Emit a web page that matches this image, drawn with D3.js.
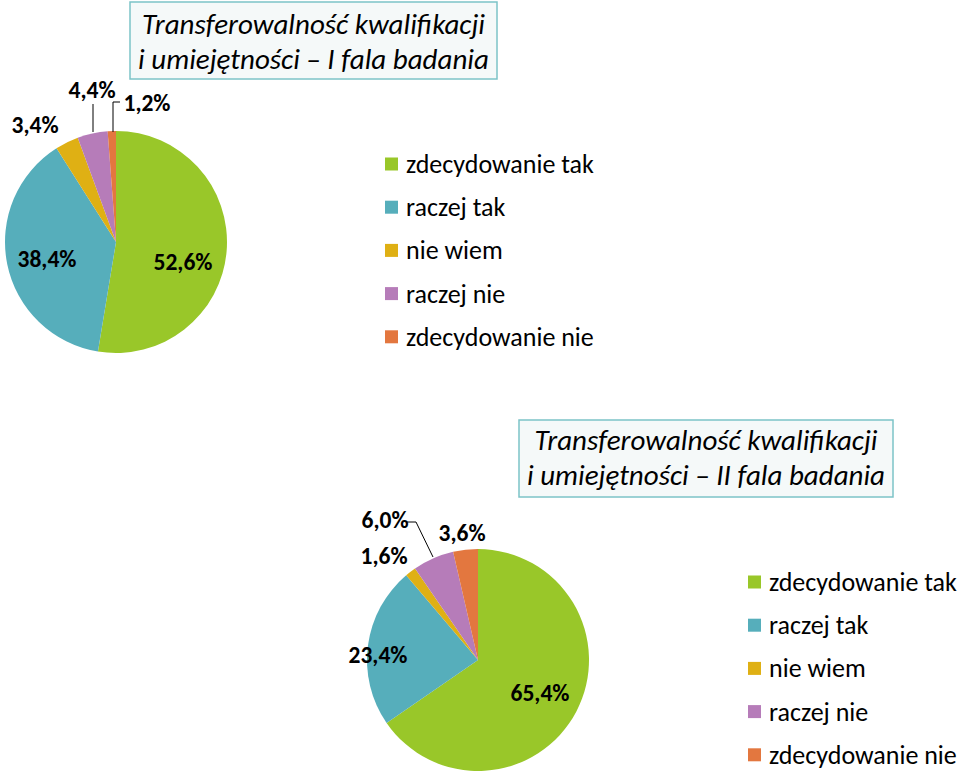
<!DOCTYPE html>
<html><head><meta charset="utf-8">
<script src="https://cdn.jsdelivr.net/npm/d3@7"></script>
<style>body{margin:0;background:#fff}svg{display:block}text{font-family:Carlito,Calibri,Lato,"Open Sans",sans-serif}</style>
</head><body>
<svg id="c" width="960" height="775"></svg>
<script>
const categories = ["zdecydowanie tak","raczej tak","nie wiem","raczej nie","zdecydowanie nie"];
const colors = ["#99c729","#56aebb","#dfb014","#b67cb9","#e3773f"];
const wave1 = [52.6,38.4,3.4,4.4,1.2];
const wave2 = [65.4,23.4,1.6,6.0,3.6];
const titles1 = ["Transferowalność kwalifikacji","i umiejętności – I fala badania"];
const titles2 = ["Transferowalność kwalifikacji","i umiejętności – II fala badania"];

const svg = d3.select("#c");
const fmt = v => v.toFixed(1).replace(".", ",") + "%";

function drawPie(cx, cy, r, values, labelPos, leaders) {
  const g = svg.append("g").attr("transform", `translate(${cx},${cy})`);
  const pie = d3.pie().sort(null).value(d => d);
  const arc = d3.arc().innerRadius(0).outerRadius(r);
  const arcs = pie(values);
  g.selectAll("path").data(arcs).join("path")
    .attr("d", arc).attr("fill", (d, i) => colors[i]);
  leaders.forEach(pts => {
    g.append("path").attr("d", d3.line()(pts)).attr("fill","none")
      .attr("stroke","#000").attr("stroke-width",1);
  });
  g.selectAll("text.lbl").data(arcs).join("text").attr("class","lbl")
    .attr("x", (d, i) => labelPos[i][0]).attr("y", (d, i) => labelPos[i][1])
    .attr("text-anchor","middle").attr("dominant-baseline","central")
    .attr("font-weight","bold").attr("font-size",23.5).attr("fill","#000")
    .text(d => fmt(d.data));
}

function drawTitle(x, y, w, h, lines, off) {
  svg.append("rect").attr("x", x).attr("y", y).attr("width", w).attr("height", h)
    .attr("fill","#f5f9f9").attr("stroke","#7cc3c7").attr("stroke-width",1.5);
  lines.forEach((t, i) => {
    svg.append("text").attr("x", x + w/2).attr("y", y + off + i*35)
      .attr("text-anchor","middle").attr("font-style","italic")
      .attr("font-size",29).attr("fill","#000").text(t);
  });
}

function drawLegend(x, y, step) {
  const g = svg.append("g").attr("transform", `translate(${x},${y})`);
  const rows = g.selectAll("g").data(categories).join("g")
    .attr("transform", (d, i) => `translate(0,${i*step})`);
  rows.append("rect").attr("x",0).attr("y",-6.5).attr("width",13).attr("height",13)
    .attr("fill", (d, i) => colors[i]);
  rows.append("text").attr("x",21).attr("y",0).attr("dominant-baseline","central")
    .attr("font-size",26).attr("fill","#000").text(d => d);
}

// Pie 1
drawTitle(130, 2, 367, 77, titles1, 32);
drawPie(116, 242, 111, wave1,
  [[67,20],[-69,17],[-81,-117],[-24,-152],[31,-139]],
  [[[-23,-138],[-23,-110]], [[4,-140],[-3,-140],[-3,-110]]]);
drawLegend(385, 164, 43.2);

// Pie 2
drawTitle(519, 420, 374, 77, titles2, 30);
drawPie(478, 660, 111, wave2,
  [[62,33],[-100,-5],[-94,-104],[-93,-140],[-16,-127]],
  [[[-71,-138],[-62,-138],[-45,-103]]]);
drawLegend(748, 582, 43.2);
</script>
</body></html>
